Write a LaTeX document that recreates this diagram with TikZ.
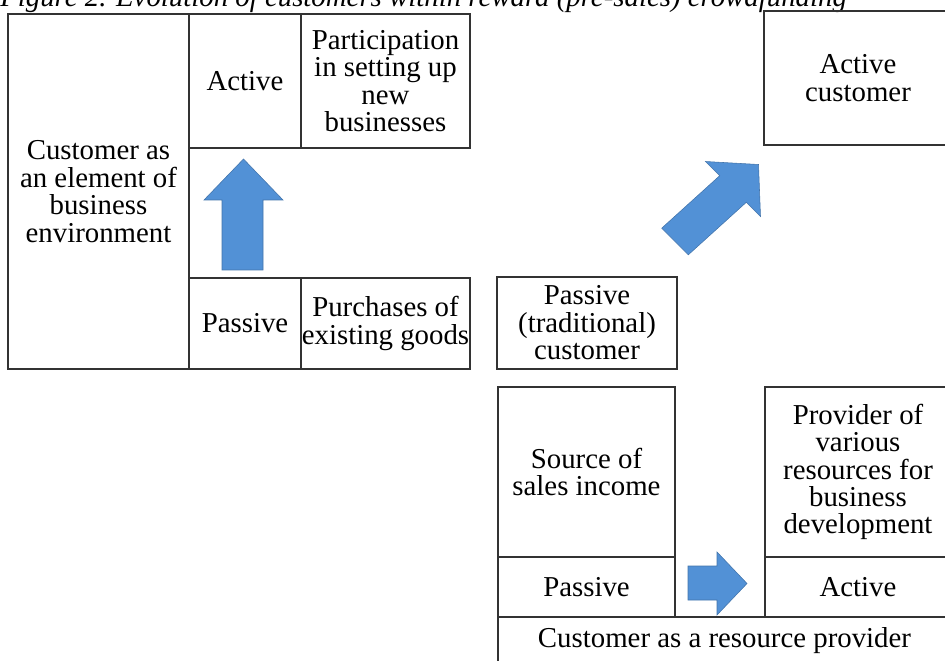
\documentclass[tikz,border=0pt]{standalone}
\usepackage{fontspec}
\setmainfont{Liberation Serif}
\definecolor{arrowblue}{RGB}{82,145,214}
\begin{document}
\begin{tikzpicture}[x=0.025cm, y=-0.025cm,
  cell/.style={draw=black!80, line width=1.3pt, inner sep=0pt, outer sep=0pt, align=center, font=\fontsize{20.5}{19.5}\selectfont},
  blockarrow/.style={fill=arrowblue, draw=arrowblue!80!black, line width=0.4pt}]
\clip (0,0) rectangle (945,661);

% caption, cut off by the top edge
\node[anchor=base west, inner sep=0pt, font=\fontsize{20.5}{20}\selectfont\itshape] at (0,7) (caption) {Figure 2. Evolution of customers within reward (pre-sales) crowdfunding};

% customer as an element of business environment
\node[cell, minimum width=4.525cm, minimum height=8.875cm] at (98.5,191.5) (env) {Customer as\\an element of\\business\\environment};
\node[cell, minimum width=2.8cm, minimum height=3.35cm] at (245,81) (envactive) {Active};
\node[cell, minimum width=4.225cm, minimum height=3.35cm, text depth=0pt] at (385.5,81) (envnew) {Participation\\in setting up\\new\\businesses};
\node[cell, minimum width=2.8cm, minimum height=2.275cm] at (245,323.5) (envpassive) {Passive};
\node[cell, minimum width=4.225cm, minimum height=2.275cm] at (385.5,323.5) (envgoods) {Purchases of\\existing goods};

\draw[blockarrow] (222,270) -- (222,200) -- (204,200) -- (243.5,159) -- (283,200) -- (263,200) -- (263,270) -- cycle;

% passive vs active customer
\node[cell, minimum width=4.5cm, minimum height=2.3cm] at (587,323) (trad) {Passive\\(traditional)\\customer};
\node[cell, minimum width=4.7cm, minimum height=3.35cm] at (858,78) (actcust) {Active\\customer};

\draw[blockarrow] (661.7,228.2) -- (719.7,175.7) -- (705.5,161.5) -- (758.5,164.5) -- (760.5,216.5) -- (746.3,202.3) -- (688.3,254.8) -- cycle;

% customer as a resource provider
\node[cell, minimum width=4.425cm, minimum height=4.25cm] at (586.5,472) (income) {Source of\\sales income};
\node[cell, minimum width=4.425cm, minimum height=1.5cm] at (586.5,587) (respassive) {Passive};
\node[cell, minimum width=4.65cm, minimum height=4.25cm] at (858,472) (provider) {Provider of\\various\\resources for\\business\\development};
\node[cell, minimum width=4.65cm, minimum height=1.5cm] at (858,587) (resactive) {Active};
\node[cell, minimum width=11.325cm, minimum height=1.175cm] at (724.5,640.5) (resource) {Customer as a resource provider};

\draw[blockarrow] (688,566) -- (717,566) -- (717,552) -- (747,583.5) -- (717,615) -- (717,600) -- (688,600) -- cycle;
\end{tikzpicture}
\end{document}
